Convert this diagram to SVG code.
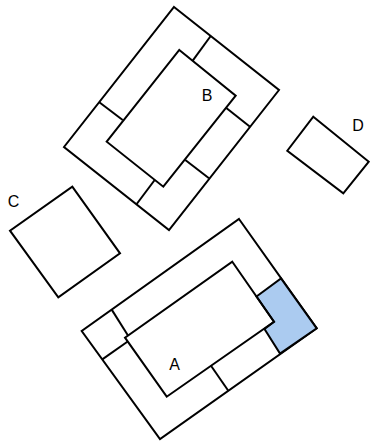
<svg xmlns="http://www.w3.org/2000/svg" width="370" height="445" viewBox="0 0 370 445">
<style>
.s{fill:none;stroke:#000;stroke-width:2;stroke-linejoin:miter}
.w{fill:#fff;stroke:#000;stroke-width:2}
.hl{fill:#abcbf0;stroke:#000;stroke-width:2}
.t{font-family:"Liberation Sans",Arial,sans-serif;font-size:16px;fill:#000;text-anchor:middle}
</style>
<rect width="370" height="445" fill="#fff"/>
<g id="B">
<polygon class="w" points="174,7 279,90 169,230 64,147"/>
<polygon class="w" points="179.3,50 235.7,95.7 163.3,186.7 106.7,141.7"/>
<text class="t" x="207" y="101">B</text>
</g>
<g id="C">
<polygon class="w" points="72.3,186.7 120,253.3 58.3,297.3 10,230.7"/>
<text class="t" x="13.5" y="207">C</text>
</g>
<g id="D">
<polygon class="w" points="313.3,116.7 368.8,161.7 343.3,193.3 287.3,150.7"/>
<text class="t" x="358" y="131">D</text>
</g>
<g id="A">
<polygon class="w" points="239,219 316.7,328.3 160,439 81.7,331"/>
<polygon class="hl" points="256.5,296.5 281,278.5 316.7,328.3 280,353.5 264.5,329 274,321.7"/>
<polygon class="s" points="232.3,261.7 274,321.7 166.7,396.7 125,337.7"/>
<text class="t" x="174.5" y="370">A</text>
</g>
<g id="connectors">
<line class="s" x1="210.7" y1="36" x2="192.7" y2="60.7"/>
<line class="s" x1="99.3" y1="102.3" x2="122.7" y2="120"/>
<line class="s" x1="226" y1="107.7" x2="250" y2="126.7"/>
<line class="s" x1="185.3" y1="160" x2="209" y2="178.3"/>
<line class="s" x1="154.7" y1="180" x2="136.7" y2="204"/>
<line class="s" x1="111.7" y1="309.6" x2="128" y2="335.5"/>
<line class="s" x1="127.7" y1="341.5" x2="102.3" y2="359.4"/>
<line class="s" x1="211" y1="365.7" x2="228.3" y2="390.7"/>
</g>
</svg>
